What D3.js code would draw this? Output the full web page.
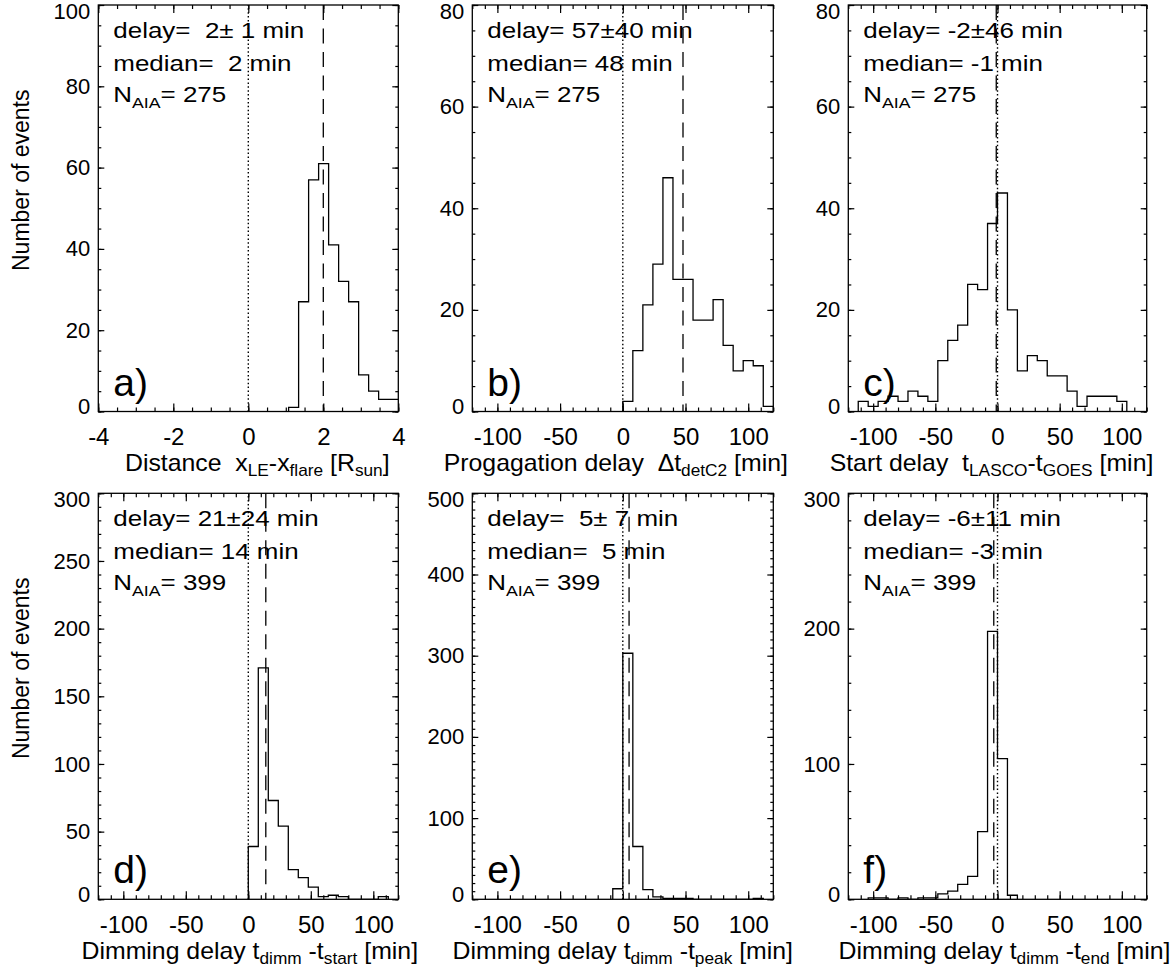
<!DOCTYPE html>
<html><head><meta charset="utf-8">
<script src="https://cdn.jsdelivr.net/npm/d3@7"></script>
<style>
body{margin:0;background:#fff;}
svg{display:block;}
text{font-family:"Liberation Sans",Arial,Helvetica,sans-serif;fill:#000;white-space:pre;}
</style></head><body>
<svg id="chart" width="1174" height="973"></svg>
<script>
// ---------------- data ----------------
const panelLetters = ["a)", "b)", "c)", "d)", "e)", "f)"];
const binStarts = [1.075, 0, -112, 0, -8, -104];
const binWidths = [0.2667, 8, 8, 8, 8, 8];
const countsA = [1, 27, 57, 61, 41, 32, 27, 9, 5, 3, 3];
const countsB = [2, 12, 21, 29, 46, 26, 26, 18, 18, 22, 13, 8, 10, 9, 1];
const countsC = [2, 1, 2, 3, 2, 4, 3, 2, 10, 14, 17, 25, 24, 37, 43, 20, 8, 11, 10, 7, 7, 4, 1, 3, 3, 3, 2];
const countsD = [39, 171, 73, 54, 22, 16, 9, 2, 3, 2, 0, 0, 0, 2];
const countsE = [13, 303, 65, 12, 3, 1, 1, 1, 0, 0, 0, 0, 0, 0, 1];
const countsF = [1, 1, 0, 1, 0, 1, 1, 4, 6, 11, 17, 50, 198, 104, 3];
const medians = [2, 48, -1, 14, 5, -3];
const delayTexts = ["delay=  2± 1 min", "delay= 57±40 min", "delay= -2±46 min",
                    "delay= 21±24 min", "delay=  5± 7 min", "delay= -6±11 min"];
const medianTexts = ["median=  2 min", "median= 48 min", "median= -1 min",
                     "median= 14 min", "median=  5 min", "median= -3 min"];
const nAIA = ["275", "275", "275", "399", "399", "399"];
const xDomains = [[-4, 4], [-120, 120], [-120, 120], [-120, 120], [-120, 120], [-120, 120]];
const xMajorTicks = [[-4, -2, 0, 2, 4], [-100, -50, 0, 50, 100], [-100, -50, 0, 50, 100],
                     [-100, -50, 0, 50, 100], [-100, -50, 0, 50, 100], [-100, -50, 0, 50, 100]];
const xMinorSteps = [0.5, 10, 10, 10, 10, 10];
const yDomains = [[0, 100], [0, 80], [0, 80], [0, 300], [0, 500], [0, 300]];
const yMajorSteps = [20, 20, 20, 50, 100, 100];
const yMinorSteps = [5, 5, 5, 10, 10, 20];
const yTitle = "Number of events";
const xTitles = [
  [["Distance  x", 0], ["LE", 1], ["-x", 0], ["flare", 1], [" [R", 0], ["sun", 1], ["]", 0]],
  [["Progagation delay  \u0394t", 0], ["detC2", 1], [" [min]", 0]],
  [["Start delay  t", 0], ["LASCO", 1], ["-t", 0], ["GOES", 1], [" [min]", 0]],
  [["Dimming delay t", 0], ["dimm", 1], [" -t", 0], ["start", 1], [" [min]", 0]],
  [["Dimming delay t", 0], ["dimm", 1], [" -t", 0], ["peak", 1], [" [min]", 0]],
  [["Dimming delay t", 0], ["dimm", 1], [" -t", 0], ["end", 1], [" [min]", 0]]
];
const countsAll = [countsA, countsB, countsC, countsD, countsE, countsF];

// ---------------- layout ----------------
const colLeft = [98.3, 472.3, 848.3], colRight = [398.3, 773.3, 1146.7];
const rowTop = [5, 493.3], rowBottom = [411.5, 899.3];
const titleShift = [9, -7, -6, 1.5, 0, 7];
const svg = d3.select("#chart");
const defs = svg.append("defs");
const fmt = d => String(d);

function rangeSteps(d, step) {
  const out = [];
  const n0 = Math.ceil(d[0] / step - 1e-9), n1 = Math.floor(d[1] / step + 1e-9);
  for (let n = n0; n <= n1; n++) out.push(+(n * step).toFixed(6));
  return out;
}
function cleanAxis(g) {
  g.attr("font-size", null).attr("font-family", null);
  g.select(".domain").remove();
  g.selectAll(".tick line").attr("stroke", "#000").attr("stroke-width", 1.2);
}

for (let i = 0; i < 6; i++) {
  const c = i % 3, r = Math.floor(i / 3);
  const L = colLeft[c], R = colRight[c], T = rowTop[r], B = rowBottom[r];
  const x = d3.scaleLinear().domain(xDomains[i]).range([L, R]);
  const y = d3.scaleLinear().domain(yDomains[i]).range([B, T]);
  const g = svg.append("g");

  defs.append("clipPath").attr("id", "clip" + i)
    .append("rect").attr("x", L).attr("y", T).attr("width", R - L).attr("height", B - T);

  // histogram (step outline)
  const counts = countsAll[i];
  const pts = [[binStarts[i], 0]];
  counts.forEach((v, k) => {
    const a = binStarts[i] + k * binWidths[i];
    pts.push([a, v]); pts.push([a + binWidths[i], v]);
  });
  pts.push([binStarts[i] + counts.length * binWidths[i], 0]);
  const line = d3.line().x(d => x(d[0])).y(d => y(d[1]));
  g.append("path").attr("d", line(pts)).attr("fill", "none")
    .attr("stroke", "#000").attr("stroke-width", 1.3)
    .attr("clip-path", `url(#clip${i})`);

  // zero dotted line and median dashed line
  g.append("line").attr("x1", x(0)).attr("x2", x(0)).attr("y1", B).attr("y2", T)
    .attr("stroke", "#000").attr("stroke-width", 1.4).attr("stroke-dasharray", "1.5,2.4");
  g.append("line").attr("x1", x(medians[i])).attr("x2", x(medians[i])).attr("y1", T).attr("y2", B)
    .attr("stroke", "#000").attr("stroke-width", 1.3).attr("stroke-dasharray", "15,8.5");

  // axes: minor ticks
  const xMinor = rangeSteps(xDomains[i], xMinorSteps[i]);
  const yMinor = rangeSteps(yDomains[i], yMinorSteps[i]);
  const yMajor = rangeSteps(yDomains[i], yMajorSteps[i]);
  const yMax = yDomains[i][1];
  g.append("g").attr("transform", `translate(0,${B})`)
    .call(d3.axisBottom(x).tickValues(xMinor).tickSize(-4).tickSizeOuter(0).tickFormat(""))
    .call(cleanAxis);
  g.append("g").attr("transform", `translate(0,${T})`)
    .call(d3.axisTop(x).tickValues(xMinor).tickSize(-4).tickSizeOuter(0).tickFormat(""))
    .call(cleanAxis);
  g.append("g").attr("transform", `translate(${L},0)`)
    .call(d3.axisLeft(y).tickValues(yMinor).tickSize(-3).tickSizeOuter(0).tickFormat(""))
    .call(cleanAxis);
  g.append("g").attr("transform", `translate(${R},0)`)
    .call(d3.axisRight(y).tickValues(yMinor).tickSize(-3).tickSizeOuter(0).tickFormat(""))
    .call(cleanAxis);
  // major ticks
  const xb = g.append("g").attr("transform", `translate(0,${B})`)
    .call(d3.axisBottom(x).tickValues(xMajorTicks[i]).tickSize(-8).tickSizeOuter(0)
      .tickPadding(16.5).tickFormat(fmt))
    .call(cleanAxis);
  xb.selectAll("text").style("font-size", "24px");
  g.append("g").attr("transform", `translate(0,${T})`)
    .call(d3.axisTop(x).tickValues(xMajorTicks[i]).tickSize(-8).tickSizeOuter(0).tickFormat(""))
    .call(cleanAxis);
  const yl = g.append("g").attr("transform", `translate(${L},0)`)
    .call(d3.axisLeft(y).tickValues(yMajor).tickSize(-6).tickSizeOuter(0)
      .tickPadding(8).tickFormat(fmt))
    .call(cleanAxis);
  yl.selectAll("text").style("font-size", "22px")
    .attr("y", d => d === 0 ? -5 : (d === yMax ? 6 : 0));
  g.append("g").attr("transform", `translate(${R},0)`)
    .call(d3.axisRight(y).tickValues(yMajor).tickSize(-6).tickSizeOuter(0).tickFormat(""))
    .call(cleanAxis);

  // frame
  g.append("rect").attr("x", L).attr("y", T).attr("width", R - L).attr("height", B - T)
    .attr("fill", "none").attr("stroke", "#000").attr("stroke-width", 1.3);

  // annotations
  const ann = g.append("g").attr("transform", `translate(${L + 15},${T + 32.7}) scale(1.18,1)`)
    .style("font-size", "22px");
  ann.append("text").attr("x", 0).attr("y", 0).text(delayTexts[i]);
  ann.append("text").attr("x", 0).attr("y", 33).text(medianTexts[i]);
  const nt = ann.append("text").attr("x", 0).attr("y", 64);
  nt.append("tspan").text("N");
  nt.append("tspan").attr("dy", 6).style("font-size", "15px").text("AIA");
  nt.append("tspan").attr("dy", -6).text("= " + nAIA[i]);

  // panel letter
  g.append("text").attr("x", L + 15).attr("y", B - 16).style("font-size", "39px").text(panelLetters[i]);

  // x title
  const cx = (L + R) / 2 + titleShift[i];
  const xt = g.append("g").attr("transform", `translate(${cx},${B + 59.5}) scale(1.08,1)`)
    .append("text").attr("x", 0).attr("y", 0)
    .attr("text-anchor", "middle").style("font-size", "23px");
  let shift = 0;
  xTitles[i].forEach(([s, sub]) => {
    const ts = xt.append("tspan").text(s);
    if (sub) {
      ts.style("font-size", "16px");
      if (shift === 0) { ts.attr("dy", 5); shift = 5; }
    } else if (shift !== 0) { ts.attr("dy", -5); shift = 0; }
  });

  // y title (left column only)
  if (c === 0) {
    svg.append("text").attr("transform", `translate(29,${(T + B) / 2 - 28}) rotate(-90)`)
      .attr("text-anchor", "middle").style("font-size", "23px").text(yTitle);
  }
}
</script>
</body></html>
